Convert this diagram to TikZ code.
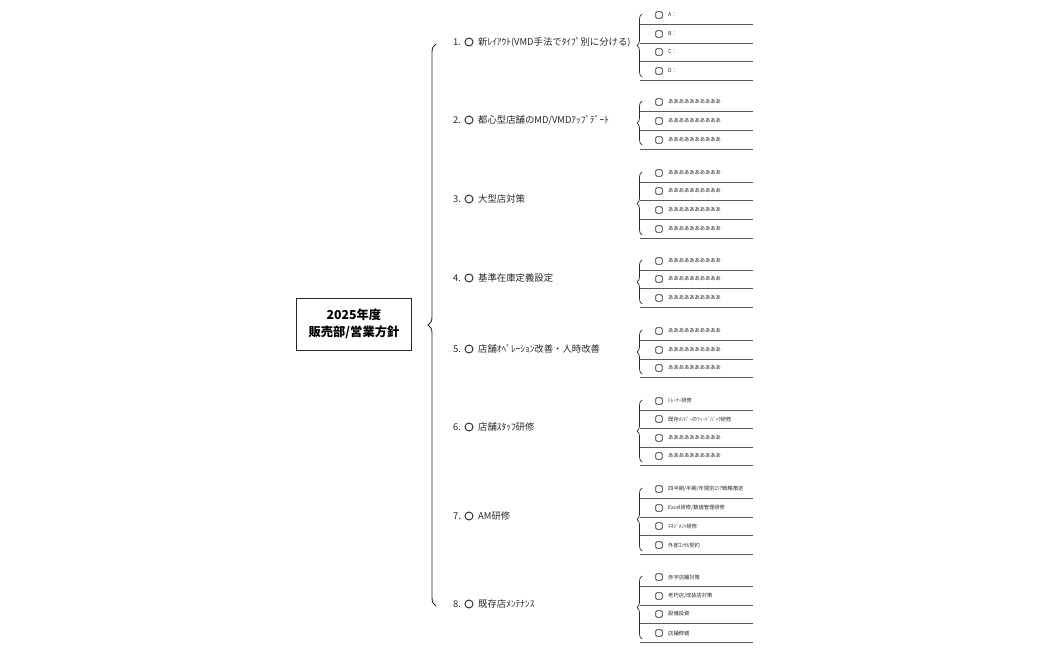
\documentclass[tikz,border=0pt]{standalone}
\usepackage{fontspec}
\setmainfont{Noto Sans CJK JP}
\usetikzlibrary{decorations.pathreplacing, calc}
\definecolor{lineDark}{RGB}{40, 40, 40}
\definecolor{lineGray}{RGB}{90, 90, 90}
\tikzset{
    % --- 中心 ---
    mainBox/.style={
        rectangle, draw=lineDark, thick, align=center,
        minimum width=115*0.03cm, minimum height=52*0.03cm,
        font=\bfseries\fontsize{10.5}{15}\selectfont
    },
    % --- 項目 ---
    catText/.style={anchor=west, inner sep=0pt, font=\fontsize{8}{9}\selectfont, text=lineDark},
    catMark/.style={circle, draw=lineDark, thick, minimum size=8*0.03cm, inner sep=0pt},
    catLine/.style={draw=lineDark, double distance=1.2pt, line width=0.5pt},
    % --- 小項目 ---
    box/.style={rectangle, rounded corners=1pt, draw=lineDark, semithick,
        minimum size=6.5*0.03cm, inner sep=0pt},
    itemText/.style={anchor=west, inner sep=0pt, font=\fontsize{4.5}{5}\selectfont, text=lineDark},
    itemLine/.style={draw=lineGray, line width=0.8pt},
    curly/.style={draw=lineDark, semithick, decorate,
        decoration={brace, amplitude=5*0.03cm, aspect=0.5}},
    bigCurly/.style={draw=lineDark, thick, decorate,
        decoration={brace, amplitude=8*0.03cm}}
}

\begin{document}
\begin{tikzpicture}[x=0.03cm, y=-0.03cm]

	\useasboundingbox (0,0) rectangle (1050,650);

	% 中心
	\node [mainBox] (main) at (354,324) {2025年度\\販売部/営業方針};
	\draw [bigCurly] (436,606) -- (436,44);

	% 項目
	\foreach \k/\y/\txt in {
		1/42/{新ﾚｲｱｳﾄ(VMD手法でﾀｲﾌﾟ別に分ける)},
		2/120/{都心型店舗のMD/VMDｱｯﾌﾟﾃﾞｰﾄ},
		3/199/{大型店対策},
		4/278/{基準在庫定義設定},
		5/349/{店舗ｵﾍﾟﾚｰｼｮﾝ改善・人時改善},
		6/427/{店舗ｽﾀｯﾌ研修},
		7/516/{AM研修},
		8/604/{既存店ﾒﾝﾃﾅﾝｽ}}
	{
		\node [catText] (num\k) at (453,\y) {\k.};
		\node [catMark] (mark\k) at (469,\y) {};
		\node [catText] (cat\k) at (478,\y) {\txt};
		\coordinate (ul\k) at (446,\y+13);
		\draw [catLine] (ul\k) -- ++(186,0);
	}

	% 小項目
	\foreach \n/\y/\txt in {
		a1/15/{A：}, a2/34/{B：}, a3/52/{C：}, a4/71/{D：},
		b1/102/{ああああああああああ}, b2/121/{ああああああああああ}, b3/140/{ああああああああああ},
		c1/173/{ああああああああああ}, c2/191/{ああああああああああ}, c3/210/{ああああああああああ}, c4/229/{ああああああああああ},
		d1/261/{ああああああああああ}, d2/279/{ああああああああああ}, d3/298/{ああああああああああ},
		e1/331/{ああああああああああ}, e2/350/{ああああああああああ}, e3/368/{ああああああああああ},
		f1/401/{ﾄﾚｰﾅｰ研修}, f2/419/{既存ﾒﾝﾊﾞｰのﾌｨｰﾄﾞﾊﾞｯｸ研修}, f3/438/{ああああああああああ}, f4/456/{ああああああああああ},
		g1/489/{四半期/半期/年間別ｴﾘｱ戦略策定}, g2/508/{Excel研修/数値管理研修}, g3/526/{ﾏﾈｼﾞﾒﾝﾄ研修}, g4/545/{外部ｺﾝｻﾙ契約},
		h1/577/{赤字店舗対策}, h2/596/{老朽店/改装店対策}, h3/614/{設備投資}, h4/633/{店舗修繕}}
	{
		\node [box] (chk\n) at (659,\y) {};
		\node [itemText] (item\n) at (668,\y) {\txt};
		\coordinate (il\n) at (640,\y+9);
		\draw [itemLine] (il\n) -- ++(113,0);
	}

	% 括弧
	\draw [curly] (642,77) -- (642,14);
	\draw [curly] (642,145) -- (642,101);
	\draw [curly] (642,235) -- (642,172);
	\draw [curly] (642,304) -- (642,260);
	\draw [curly] (642,374) -- (642,330);
	\draw [curly] (642,462) -- (642,400);
	\draw [curly] (642,551) -- (642,488);
	\draw [curly] (642,639) -- (642,576);

\end{tikzpicture}
\end{document}
